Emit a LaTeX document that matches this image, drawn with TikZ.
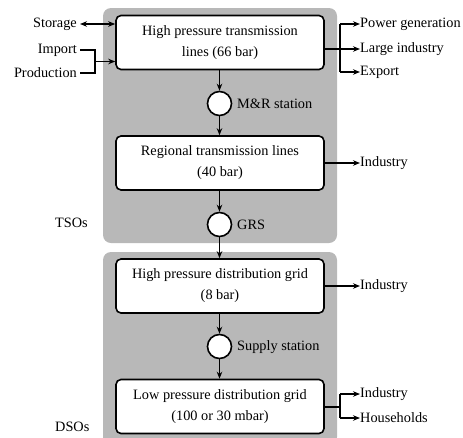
\documentclass[tikz,border=0pt]{standalone}
\usepackage{fontspec}
\setmainfont{Liberation Serif}
\usetikzlibrary{arrows.meta}
\begin{document}
\begin{tikzpicture}[x=1pt,y=-1pt,
  panel/.style={fill={rgb,255:red,184;green,184;blue,184},rounded corners=8pt},
  gridbox/.style={draw,line width=1.6pt,fill=white,rounded corners=5pt,minimum width=208pt,minimum height=54pt,align=center,inner sep=0pt,font=\fontsize{14.3}{21}\selectfont},
  station/.style={draw,line width=1.6pt,fill=white,circle,minimum size=24pt,inner sep=0pt},
  lbl/.style={font=\fontsize{14.3}{16}\selectfont,inner sep=0pt},
  flow/.style={line width=1.5pt,-{Stealth[length=7pt,width=5.5pt]}},
  plain/.style={line width=1.5pt}]
\useasboundingbox (0,0) rectangle (463,437);
\fill[panel] (103,8) rectangle (337,243);
\fill[panel] (103,252) rectangle (337,445);
% boxes
\node[gridbox] (b1) at (220,42.5) {High pressure transmission\\lines (66 bar)};
\node[gridbox] (b2) at (220,163) {Regional transmission lines\\(40 bar)};
\node[gridbox] (b3) at (220,286) {High pressure distribution grid\\(8 bar)};
\node[gridbox] (b4) at (220,406.5) {Low pressure distribution grid\\(100 or 30 mbar)};
% stations
\node[station] (s1) at (219.5,103.5) {};
\node[station] (s2) at (219.5,224.5) {};
\node[station] (s3) at (219.5,346.5) {};
\node[lbl,anchor=west] (s1l) at (237,103.5) {M\&R station};
\node[lbl,anchor=west] (s2l) at (237,225) {GRS};
\node[lbl,anchor=west] (s3l) at (237,347) {Supply station};
% vertical flows
\draw[flow] (b1.south -| s1) -- (s1.north);
\draw[flow] (s1.south) -- (b2.north -| s1);
\draw[flow] (b2.south -| s1) -- (s2.north);
\draw[flow] (s2.south) -- (b3.north -| s2);
\draw[flow] (b3.south -| s2) -- (s3.north);
\draw[flow] (s3.south) -- (b4.north -| s3);
% operator labels
\node[lbl,anchor=west] (tso) at (55,223) {TSOs};
\node[lbl,anchor=west] (dso) at (55,427) {DSOs};
% left inputs
\node[lbl,anchor=east] (sto) at (77,24) {Storage};
\node[lbl,anchor=east] (imp) at (77,50) {Import};
\node[lbl,anchor=east] (pro) at (77,73) {Production};
\draw[line width=1.5pt,{Stealth[length=7pt,width=5.5pt]}-{Stealth[length=7pt,width=5.5pt]}] (sto.east) ++(3,0) coordinate (stoa) -- (stoa -| b1.west);
\coordinate (jl) at (95,61.5);
\draw[plain] (imp.east) ++(3,0) -- (imp.east -| jl) -- (pro.east -| jl) -- ++(-15,0);
\draw[flow] (jl) -- (jl -| b1.west);
% right outputs
\node[lbl,anchor=west] (pg) at (360,24) {Power generation};
\node[lbl,anchor=west] (li) at (360,49) {Large industry};
\node[lbl,anchor=west] (ex) at (360,72) {Export};
\coordinate (jr) at (340,49);
\draw[plain] (b1.east |- jr) -- (jr);
\draw[plain] (jr |- pg.west) -- (jr |- ex.west);
\draw[flow] (jr |- pg.west) -- (pg.west);
\draw[flow] (jr) -- (li.west);
\draw[flow] (jr |- ex.west) -- (ex.west);
\node[lbl,anchor=west] (i2) at (360,163) {Industry};
\draw[flow] (b2.east |- i2.west) -- (i2.west);
\node[lbl,anchor=west] (i3) at (360,286) {Industry};
\draw[flow] (b3.east |- i3.west) -- (i3.west);
\node[lbl,anchor=west] (i4) at (360,394) {Industry};
\node[lbl,anchor=west] (hh) at (360,418) {Households};
\coordinate (jr4) at (340,407);
\draw[plain] (b4.east |- jr4) -- (jr4);
\draw[plain] (jr4 |- i4.west) -- (jr4 |- hh.west);
\draw[flow] (jr4 |- i4.west) -- (i4.west);
\draw[flow] (jr4 |- hh.west) -- (hh.west);
\end{tikzpicture}
\end{document}
